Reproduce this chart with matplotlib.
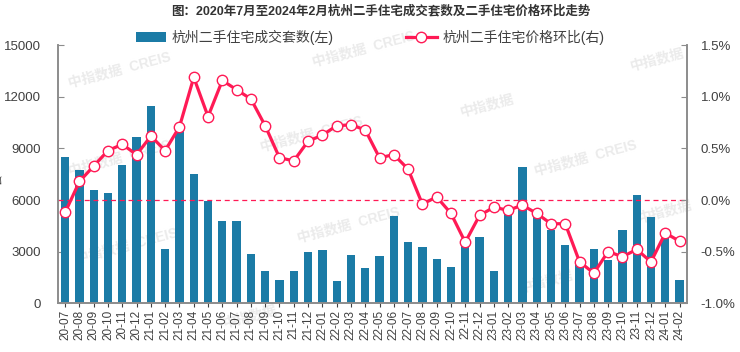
import matplotlib
matplotlib.use("Agg")
import matplotlib.pyplot as plt
import numpy as np

plt.rcParams["font.family"] = ["Liberation Sans", "Noto Sans CJK SC", "DejaVu Sans"]

# months 2020-07 .. 2024-02
months = [
    "20-07", "20-08", "20-09", "20-10", "20-11", "20-12",
    "21-01", "21-02", "21-03", "21-04", "21-05", "21-06",
    "21-07", "21-08", "21-09", "21-10", "21-11", "21-12",
    "22-01", "22-02", "22-03", "22-04", "22-05", "22-06",
    "22-07", "22-08", "22-09", "22-10", "22-11", "22-12",
    "23-01", "23-02", "23-03", "23-04", "23-05", "23-06",
    "23-07", "23-08", "23-09", "23-10", "23-11", "23-12",
    "24-01", "24-02",
]

# 成交套数 (left axis)
deals = [
    8500, 7750, 6600, 6400, 8050, 9680,
    11450, 3150, 10200, 7540, 5970, 4760,
    4800, 2870, 1850, 1320, 1850, 2950,
    3070, 1260, 2780, 2040, 2720, 5070,
    3580, 3260, 2580, 2120, 3300, 3870,
    1870, 5200, 7930, 5000, 4250, 3400,
    2400, 3170, 2530, 4240, 6300, 5010,
    3800, 1320,
]

# 价格环比 % (right axis)
mom = [
    -0.12, 0.18, 0.33, 0.48, 0.54, 0.44,
    0.62, 0.48, 0.71, 1.19, 0.81, 1.16,
    1.07, 0.98, 0.72, 0.41, 0.38, 0.57,
    0.63, 0.72, 0.73, 0.68, 0.41, 0.44,
    0.30, -0.04, 0.03, -0.13, -0.41, -0.15,
    -0.07, -0.10, -0.05, -0.13, -0.23, -0.23,
    -0.60, -0.71, -0.50, -0.55, -0.48, -0.60,
    -0.32, -0.40,
]

bar_color = "#1b7ba6"
line_color = "#ff1a55"
grey = "#404040"

fig = plt.figure(figsize=(7.4, 3.52), dpi=100)
ax = fig.add_axes([0.0784, 0.139, 0.8496, 0.732])
ax2 = ax.twinx()

x = np.arange(len(months))

# faint watermarks behind the plot
wm = [(0.09, 0.80, "中指数据  CREIS"), (0.09, 0.55, "中指数据  CREIS"), (0.10, 0.30, "中指数据  CREIS"),
      (0.42, 0.86, "中指数据  CREIS"), (0.35, 0.62, "中指数据  CREIS"), (0.40, 0.36, "中指数据  CREIS"),
      (0.62, 0.70, "中指数据"), (0.72, 0.55, "中指数据  CREIS"), (0.85, 0.83, "中指数据"),
      (0.86, 0.40, "中指数据"), (0.70, 0.20, "中指数据"), (0.30, 0.10, "中指数据")]
for wx, wy, wt in wm:
    fig.text(wx, wy, wt, color="#ebebeb", fontsize=10, fontweight="bold", rotation=15,
             ha="left", va="center", zorder=-5)

ax.bar(x, deals, width=0.58, color=bar_color, zorder=2, label="杭州二手住宅成交套数(左)")
ax.set_xlim(-0.5, len(months) - 0.5)
ax.set_ylim(0, 15000)
ax.set_yticks(np.arange(0, 15001, 3000))
ax.set_xticks(x)
ax.set_xticklabels(months, rotation=90, fontsize=8.5, color=grey)

ax2.axhline(0, color=line_color, linestyle=(0, (4, 3)), linewidth=0.9, zorder=1)
ax2.plot(x, mom, color=line_color, linewidth=2.3, marker="o", markersize=7.5,
         markerfacecolor="white", markeredgecolor=line_color, markeredgewidth=1.0,
         label="杭州二手住宅价格环比(右)", zorder=3)
ax2.set_ylim(-1.0, 1.5)
ax2.set_yticks(np.arange(-1.0, 1.51, 0.5))
ax2.set_yticklabels([f"{v:.1f}%" for v in np.arange(-1.0, 1.51, 0.5)])

for a in (ax, ax2):
    a.patch.set_visible(False)
    a.spines["top"].set_visible(False)
    for s in ("left", "right", "bottom"):
        a.spines[s].set_color("#8c8c8c")
        a.spines[s].set_linewidth(1.2)
    a.tick_params(axis="y", direction="in", length=4, colors="#8c8c8c", labelcolor=grey, labelsize=9.5)
ax.tick_params(axis="x", direction="inout", length=6, colors=grey, pad=2)
ax.tick_params(axis="y", pad=12)
ax2.tick_params(axis="y", pad=10)

ax.set_zorder(ax2.get_zorder() - 1)

fig.text(-0.009, 0.49, "套", rotation=90, fontsize=8, color=grey, ha="left", va="center")

fig.suptitle("图：2020年7月至2024年2月杭州二手住宅成交套数及二手住宅价格环比走势",
             x=0.515, y=0.985, fontsize=9, fontweight="bold", color="#333333")

h1, l1 = ax.get_legend_handles_labels()
h2, l2 = ax2.get_legend_handles_labels()
fig.legend(h1 + h2, l1 + l2, loc="center", bbox_to_anchor=(0.50, 0.893), ncol=2,
           frameon=False, fontsize=10, columnspacing=5.2, handlelength=2.2,
           handletextpad=0.4, labelcolor=grey)

fig.savefig("out.png", dpi=100)
